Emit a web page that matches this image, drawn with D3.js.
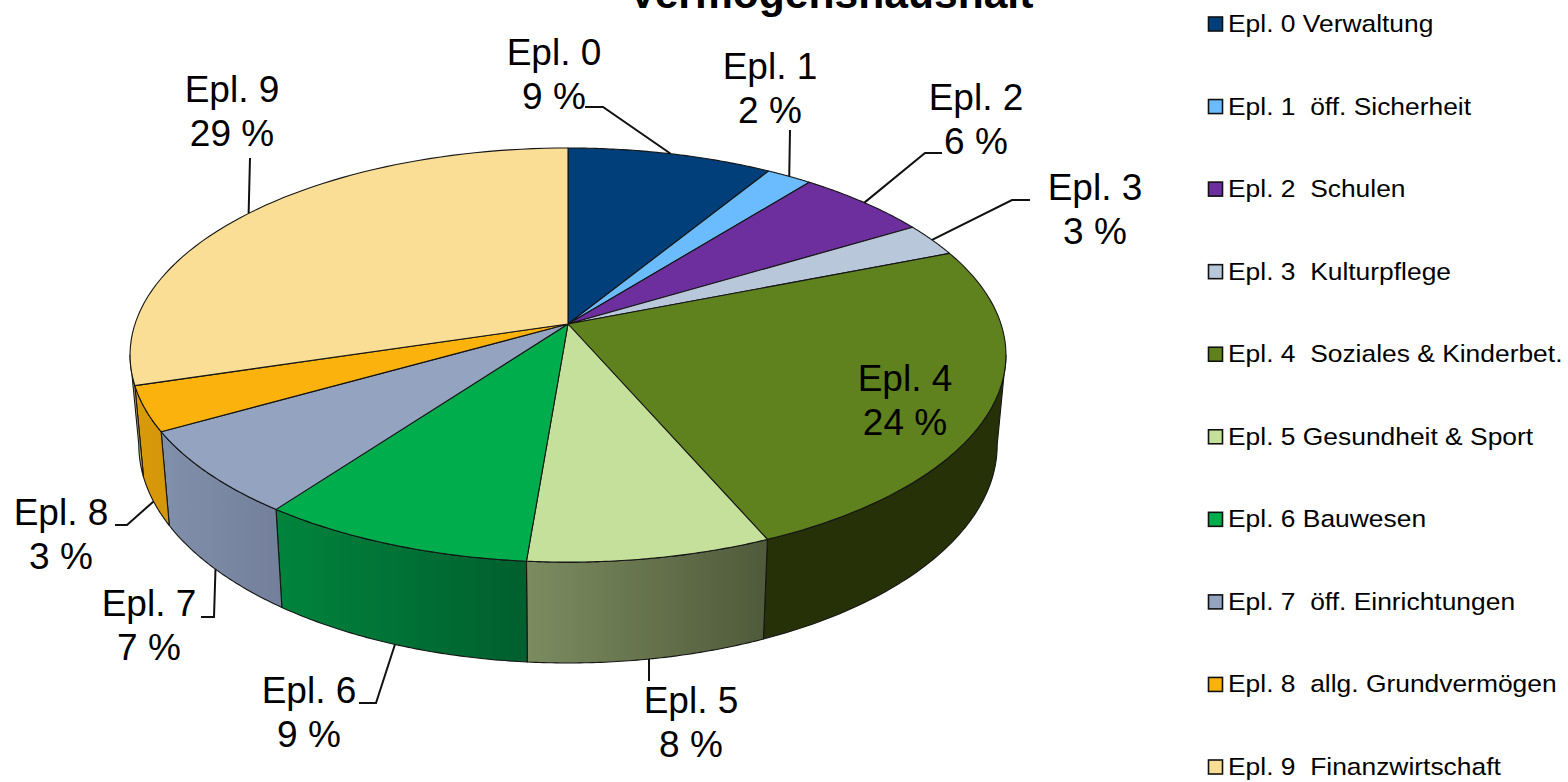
<!DOCTYPE html>
<html><head><meta charset="utf-8">
<script src="https://cdn.jsdelivr.net/npm/d3@7/dist/d3.min.js"></script>
<style>html,body{margin:0;padding:0;background:#fff;overflow:hidden}svg{display:block}
text{font-family:"Liberation Sans",Arial,sans-serif;fill:#000;white-space:pre}</style>
</head><body>
<script>
// ---- data ----
const titleText = "Vermögenshaushalt";
const sliceNames = ["Epl. 0","Epl. 1","Epl. 2","Epl. 3","Epl. 4","Epl. 5","Epl. 6","Epl. 7","Epl. 8","Epl. 9"];
const sliceValues = [8.75,1.95,5.7,2.6,24.5,7.8,8.8,6.7,3.5,29.7];
const percentLabels = ["9 %","2 %","6 %","3 %","24 %","8 %","9 %","7 %","3 %","29 %"];
const legendLabels = ["Epl. 0 Verwaltung","Epl. 1  öff. Sicherheit","Epl. 2  Schulen","Epl. 3  Kulturpflege","Epl. 4  Soziales & Kinderbet.","Epl. 5 Gesundheit & Sport","Epl. 6 Bauwesen","Epl. 7  öff. Einrichtungen","Epl. 8  allg. Grundvermögen","Epl. 9  Finanzwirtschaft"];
const topColors = ["#003f7a","#6bbcff","#6e2f9e","#b8c7da","#5f821e","#c5e09b","#00ad4d","#93a3c0","#fbb20c","#fade96"];
const wallStart = ["#002f5c","#5090c0","#52237a","#8a95a4","#263108","#7c8c60","#00843c","#8190aa","#d99b0a","#c4ae74"];
const wallEnd   = ["#002f5c","#5090c0","#52237a","#8a95a4","#263108","#4f5a3a","#005f2e","#737f9b","#d4960a","#c4ae74"];

// ---- layout: label centre x, first-line baseline, leader elbows, rim the leader touches ----
const labelX = [554,770,976,1095,905,691,309,149,61,232];
const labelY = [65,79,110,200,391,713,703,616,525,102];
const leaderTail = [[[585,107],[603,107]],[[790,130]],[[942,153],[925,153]],[[1030,200],[1012,200]],null,[[649,681]],[[359,703],[376,703]],[[201,617],[214,617]],[[115,525],[127,525]],[[250,158]]];
const leaderRim = ["top","top","top","top",null,"bottom","bottom","bottom","bottom","top"];

const W=1568,H=782;
const svg=d3.select("body").append("svg").attr("width",W).attr("height",H);

// perspective projection of the pie's disc (angle clockwise from the back)
const apexX=568, apexY=324, A=433, B=202.4, K=0.15;
const sx=d3.scaleLinear().domain([-1,1]).range([apexX-A,apexX+A]);
const topPt=a=>{const w=1+K*Math.cos(a);
  return [sx(Math.sin(a)/w), apexY-B*Math.cos(a)/w];};
const botPt=a=>{const [x,y]=topPt(a);return [apexX+0.98*(x-apexX),412+1.054*(y-apexY)];};

const arcs=d3.pie().sort(null).value(d=>d)(sliceValues);
const arcSamples=(a0,a1)=>d3.range(0,61).map(i=>a0+(a1-a0)*i/60);
const line=d3.line();

const wallFrom=Math.acos(-K), wallTo=2*Math.PI-Math.acos(-K);
const defs=svg.append("defs");
const strokeCol="#151515";

// side walls
const walls=svg.append("g");
arcs.forEach((d,i)=>{
  const a0=Math.max(d.startAngle,wallFrom), a1=Math.min(d.endAngle,wallTo);
  if(a1<=a0) return;
  const s=arcSamples(a0,a1), up=s.map(topPt), dn=s.map(botPt).reverse();
  const id="wall"+i;
  const xs=up.concat(dn).map(p=>p[0]);
  const g=defs.append("linearGradient").attr("id",id).attr("gradientUnits","userSpaceOnUse")
    .attr("x1",d3.min(xs)).attr("x2",d3.max(xs)).attr("y1",0).attr("y2",0);
  g.append("stop").attr("offset",0).attr("stop-color",wallStart[i]);
  g.append("stop").attr("offset",1).attr("stop-color",wallEnd[i]);
  walls.append("path").attr("d",line(up.concat(dn))+"Z")
    .attr("fill",`url(#${id})`).attr("stroke",strokeCol).attr("stroke-width",1.1).attr("stroke-linejoin","round");
});

// top surface
svg.append("g").selectAll("path").data(arcs).join("path")
  .attr("d",d=>line([[apexX,apexY]].concat(arcSamples(d.startAngle,d.endAngle).map(topPt)))+"Z")
  .attr("fill",(d,i)=>topColors[i]).attr("stroke",strokeCol).attr("stroke-width",1.1).attr("stroke-linejoin","round");

// leaders
svg.append("g").selectAll("path").data(arcs.filter((d,i)=>leaderTail[i])).join("path")
  .attr("d",d=>{const i=d.index,mid=(d.startAngle+d.endAngle)/2;
    const p=(leaderRim[i]==="top"?topPt:botPt)(mid);
    return line(leaderTail[i].concat([p]));})
  .attr("fill","none").attr("stroke","#111").attr("stroke-width",2);

// slice labels
const lab=svg.append("g").selectAll("text").data(sliceNames).join("text")
  .attr("text-anchor","middle").attr("font-size",37);
lab.append("tspan").attr("x",(d,i)=>labelX[i]).attr("y",(d,i)=>labelY[i]).text(d=>d);
lab.append("tspan").attr("x",(d,i)=>labelX[i]).attr("y",(d,i)=>labelY[i]+44).text((d,i)=>percentLabels[i]);

// title
svg.append("text").attr("x",831).attr("y",8).attr("text-anchor","middle")
  .attr("font-size",42.6).attr("font-weight","bold").text(titleText);

// legend
const ly=d3.scalePoint().domain(d3.range(legendLabels.length)).range([24,767]);
const leg=svg.append("g").selectAll("g").data(legendLabels).join("g")
  .attr("transform",(d,i)=>`translate(1208,${ly(i)})`);
leg.append("rect").attr("x",0.5).attr("y",-7).attr("width",14).attr("height",14)
  .attr("fill",(d,i)=>topColors[i]).attr("stroke","#111").attr("stroke-width",1.6);
leg.append("text").attr("y",8).attr("transform","translate(20,0) scale(1.1,1)")
  .attr("font-size",24).text(d=>d);
</script>
</body></html>
